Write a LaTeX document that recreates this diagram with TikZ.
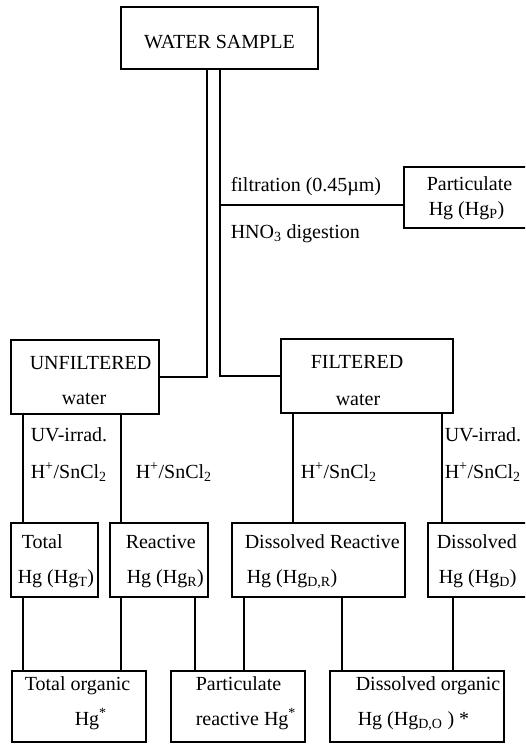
\documentclass[tikz,border=0pt]{standalone}
\usepackage{fontspec}
\setmainfont{Liberation Serif}
\newcommand\bx[5]{\node[box, minimum width={(#4-#2)*1pt}, minimum height={(#5-#3)*1pt}] (#1) at ({(#2+#4)/2},{(#3+#5)/2}) {};}
\begin{document}
\begin{tikzpicture}[x=1pt,y=-1pt, line width=1.5pt,
  box/.style={draw, rectangle, inner sep=0pt},
  txt/.style={anchor=base west, inner sep=0pt, font=\fontsize{20}{24}\selectfont}]
\useasboundingbox (0,0) rectangle (525,744);
\clip (0,0) rectangle (525,744);
% boxes
\bx{ws}{121}{7}{318}{69}
\bx{part}{404}{167}{540}{228}
\bx{unf}{11}{340}{159}{414}
\bx{fil}{281}{339}{453}{413}
\bx{tot}{11}{523}{98}{597}
\bx{rea}{110}{523}{208}{597}
\bx{dre}{232}{523}{405}{597}
\bx{dis}{428}{523}{545}{597}
\bx{tor}{12}{671}{146}{742}
\bx{pre}{171}{671}{305}{742}
\bx{dor}{330}{671}{504}{742}
% texts
\node[txt, anchor=base] at (219.5,48) {WATER SAMPLE};
\node[txt] at (230,191) {filtration (0.45µm)};
\node[txt] at (230,238) {HNO\textsubscript{3} digestion};
\node[txt] at (426,190) {Particulate};
\node[txt] at (428,215) {Hg (Hg\textsubscript{P})};
\node[txt] at (29,369) {UNFILTERED};
\node[txt] at (61,404) {water};
\node[txt] at (310,368) {FILTERED};
\node[txt] at (335,405) {water};
\node[txt] at (30,441) {UV-irrad.};
\node[txt] at (30,478) {H\textsuperscript{+}/SnCl\textsubscript{2}};
\node[txt] at (135,478) {H\textsuperscript{+}/SnCl\textsubscript{2}};
\node[txt] at (300,478) {H\textsuperscript{+}/SnCl\textsubscript{2}};
\node[txt] at (444,441) {UV-irrad.};
\node[txt] at (444,478) {H\textsuperscript{+}/SnCl\textsubscript{2}};
\node[txt] at (21,548) {Total};
\node[txt] at (17,583) {Hg (Hg\textsubscript{T})};
\node[txt] at (125,548) {Reactive};
\node[txt] at (126,583) {Hg (Hg\textsubscript{R})};
\node[txt] at (244,548) {Dissolved Reactive};
\node[txt] at (246,583) {Hg (Hg\textsubscript{D,R})};
\node[txt] at (436,548) {Dissolved};
\node[txt] at (438,583) {Hg (Hg\textsubscript{D})};
\node[txt] at (24,690) {Total organic};
\node[txt] at (74,725) {Hg\textsuperscript{*}};
\node[txt] at (195,690) {Particulate};
\node[txt] at (195,725) {reactive Hg\textsuperscript{*}};
\node[txt] at (355,690) {Dissolved organic};
\node[txt] at (357,725) {Hg (Hg\textsubscript{D,O} ) *};
% connectors
\coordinate (xL) at (207,0);
\coordinate (xR) at (220,0);
\coordinate (yP) at (0,205);
\draw (ws.south -| xL) |- (unf.east);
\draw (ws.south -| xR) |- (fil.west);
\draw (xR |- yP) -- (part.west |- yP);
\coordinate (v1) at (23,0);
\coordinate (v2) at (121,0);
\coordinate (v3) at (293,0);
\coordinate (v4) at (442,0);
\coordinate (v5) at (195,0);
\coordinate (v6) at (244,0);
\coordinate (v7) at (342,0);
\coordinate (v8) at (453,0);
\draw (unf.south -| v1) -- (tot.north -| v1);
\draw (unf.south -| v2) -- (rea.north -| v2);
\draw (fil.south -| v3) -- (dre.north -| v3);
\draw (fil.south -| v4) -- (dis.north -| v4);
\draw (tot.south -| v1) -- (tor.north -| v1);
\draw (rea.south -| v2) -- (tor.north -| v2);
\draw (rea.south -| v5) -- (pre.north -| v5);
\draw (dre.south -| v6) -- (pre.north -| v6);
\draw (dre.south -| v7) -- (dor.north -| v7);
\draw (dis.south -| v8) -- (dor.north -| v8);
\end{tikzpicture}
\end{document}
